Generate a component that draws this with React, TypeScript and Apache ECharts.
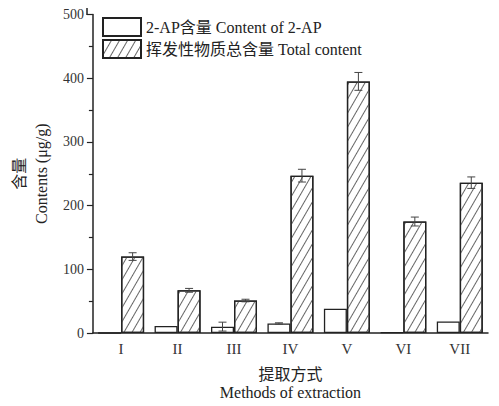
import React, { useEffect, useRef } from "react";
import * as echarts from "echarts";

const categories = ["I", "II", "III", "IV", "V", "VI", "VII"];
const apValues = [0, 11, 10, 15, 38, 1, 18];
const apErrors = [0, 0, 7, 1, 0, 0, 0];
const totalValues = [120, 67, 51, 247, 395, 175, 236];
const totalErrors = [6, 3, 2, 10, 14, 7, 9];
const seriesNames = ["2-AP含量 Content of 2-AP", "挥发性物质总含量 Total content"];

const SERIF = '"Liberation Serif", "DejaVu Serif", "Noto Sans CJK SC", serif';
const BAR_W = 23;

export default function App() {
  const ref = useRef<HTMLDivElement>(null);
  useEffect(() => {
    if (!ref.current) return;
    const chart = echarts.init(ref.current, null, { renderer: "svg" });
    const errData: number[][] = [];
    apValues.forEach((v, i) => {
      if (apErrors[i] > 0) errData.push([i, v, apErrors[i], -1]);
    });
    totalValues.forEach((v, i) => {
      if (totalErrors[i] > 0) errData.push([i, v, totalErrors[i], 1]);
    });
    const hatch = {
      symbol: "rect",
      symbolSize: 1,
      dashArrayX: [1, 0],
      dashArrayY: [1, 6],
      rotation: -Math.PI / 3,
      color: "#666",
      backgroundColor: "#fff",
    };
    chart.setOption({
      animation: false,
      backgroundColor: "#fff",
      textStyle: { fontFamily: SERIF },
      legend: {
        orient: "vertical",
        left: 97,
        top: 12,
        icon: "rect",
        itemWidth: 38,
        itemHeight: 18,
        itemGap: 2,
        data: seriesNames,
        textStyle: { fontFamily: SERIF, fontSize: 16, color: "#222" },
      },
      graphic: [
        {
          type: "line",
          shape: { x1: 87, y1: 8, x2: 87, y2: 15 },
          style: { stroke: "#222", lineWidth: 1.5 },
        },
      ],
      grid: { left: 87, right: 11, top: 14.5, bottom: 67 },
      xAxis: [
        {
          type: "category",
          data: categories,
          axisLine: { lineStyle: { color: "#222", width: 1.5 } },
          axisTick: { alignWithLabel: true, length: 6, lineStyle: { color: "#222", width: 1.2 } },
          axisLabel: { fontFamily: SERIF, fontSize: 15, color: "#333", margin: 8 },
          name: "提取方式\nMethods of extraction",
          nameLocation: "middle",
          nameGap: 32,
          nameTextStyle: { fontFamily: SERIF, fontSize: 16, color: "#222", lineHeight: 18 },
        },
        {
          type: "category",
          data: categories,
          position: "bottom",
          axisLine: { show: false },
          axisTick: { length: 4, lineStyle: { color: "#222", width: 1.2 } },
          axisLabel: { show: false },
        },
      ],
      yAxis: {
        type: "value",
        min: 0,
        max: 500,
        interval: 100,
        axisLine: { show: true, lineStyle: { color: "#222", width: 1.5 } },
        axisTick: { show: true, length: 6, lineStyle: { color: "#222", width: 1.2 } },
        minorTick: { show: true, splitNumber: 2, length: 4, lineStyle: { color: "#222", width: 1.2 } },
        splitLine: { show: false },
        axisLabel: { fontFamily: SERIF, fontSize: 14, color: "#333", margin: 9 },
        name: "含量\nContents (μg/g)",
        nameLocation: "middle",
        nameGap: 37,
        nameRotate: 90,
        nameTextStyle: { fontFamily: SERIF, fontSize: 16, color: "#222", lineHeight: 22 },
      },
      series: [
        {
          name: seriesNames[0],
          type: "bar",
          barWidth: BAR_W,
          barGap: "0%",
          data: apValues,
          itemStyle: { color: "#fff", borderColor: "#222", borderWidth: 1.3 },
        },
        {
          name: seriesNames[1],
          type: "bar",
          barWidth: BAR_W,
          barGap: "0%",
          data: totalValues,
          itemStyle: { color: "#fff", borderColor: "#222", borderWidth: 1.3, decal: hatch },
        },
        {
          type: "custom",
          z: 10,
          data: errData,
          renderItem: (params: any, api: any) => {
            const idx = api.value(0);
            const v = api.value(1);
            const e = api.value(2);
            const side = api.value(3);
            const c = api.coord([idx, v]);
            const x = c[0] + side * (BAR_W / 2);
            const yTop = api.coord([idx, v + e])[1];
            const yBot = api.coord([idx, Math.max(0, v - e)])[1];
            const cap = 4;
            const st = { stroke: "#444", lineWidth: 1 };
            return {
              type: "group",
              children: [
                { type: "line", shape: { x1: x, y1: yTop, x2: x, y2: yBot }, style: st },
                { type: "line", shape: { x1: x - cap, y1: yTop, x2: x + cap, y2: yTop }, style: st },
                { type: "line", shape: { x1: x - cap, y1: yBot, x2: x + cap, y2: yBot }, style: st },
              ],
            };
          },
        },
      ],
    });
    return () => chart.dispose();
  }, []);
  return (
    <div
      ref={ref}
      style={{ position: "fixed", left: 0, top: 0, width: 499, height: 406 }}
    />
  );
}
